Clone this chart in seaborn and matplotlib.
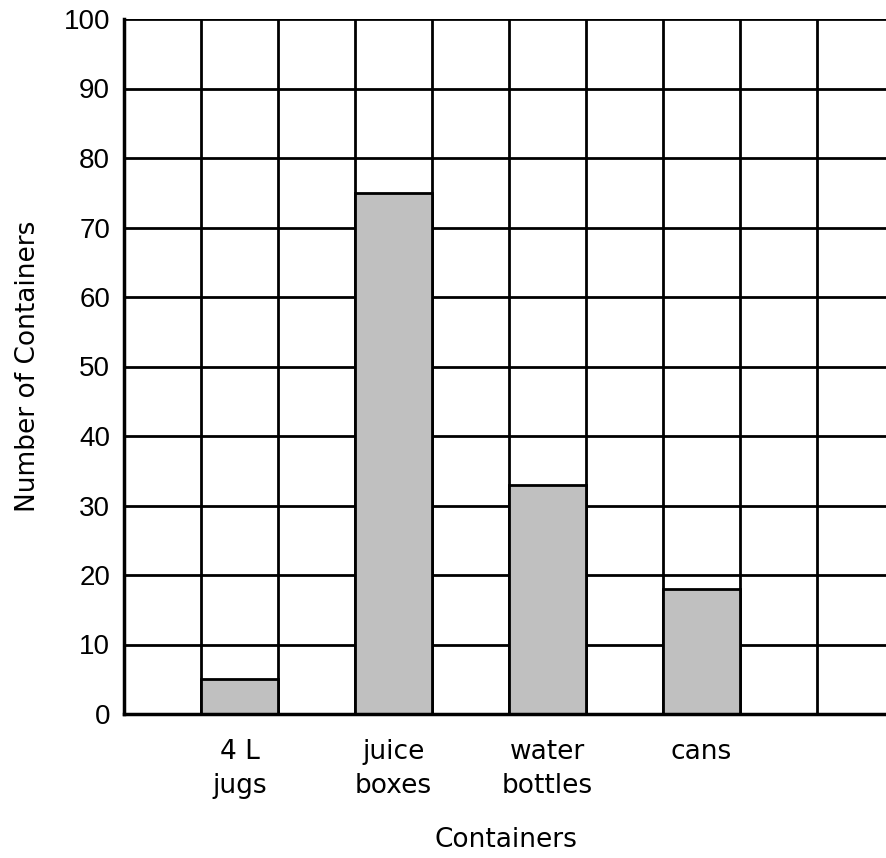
import numpy as np
import pandas as pd
import seaborn as sns
import matplotlib.pyplot as plt

containers = ["4 L\njugs", "juice\nboxes", "water\nbottles", "cans"]
counts = [5, 75, 33, 18]

df = pd.DataFrame({"Containers": containers, "Number": counts})

sns.set_style("white")
plt.rcParams['font.family'] = ['DejaVu Sans']
plt.rcParams['text.color'] = 'black'
plt.rcParams['xtick.color'] = 'black'
plt.rcParams['ytick.color'] = 'black'
plt.rcParams['axes.labelcolor'] = 'black'

fig = plt.figure(figsize=(8.87, 8.58), dpi=100)
ax = fig.add_axes([124 / 887, 144 / 858, 763 / 887, 695 / 858])

sns.barplot(data=df, x="Containers", y="Number", color="#c0c0c0",
            edgecolor="black", linewidth=2, width=0.5, saturation=1,
            zorder=3, ax=ax)

# grid: each category spans two columns
ax.set_xlim(-0.75, -0.75 + 9.91 * 0.5)
ax.set_ylim(0, 100)
ax.set_xticks(np.arange(-0.75, 4.2, 0.5), minor=True)
ax.set_yticks(np.arange(0, 101, 10))
ax.xaxis.grid(True, which="minor", color="black", linewidth=2, zorder=0)
ax.xaxis.grid(False, which="major")
ax.yaxis.grid(True, which="major", color="black", linewidth=2, zorder=0)
ax.set_axisbelow(True)
ax.tick_params(which="both", length=0)
ax.tick_params(axis="y", labelsize=20, pad=10)
ax.tick_params(axis="x", labelsize=19, pad=18)
for lbl in ax.get_yticklabels():
    lbl.set_fontfamily("Liberation Sans")
for lbl in ax.get_xticklabels():
    lbl.set_linespacing(1.4)

for side in ["top", "right"]:
    ax.spines[side].set_visible(False)
for side in ["left", "bottom"]:
    ax.spines[side].set_color("black")
    ax.spines[side].set_linewidth(2.5)
    ax.spines[side].set_zorder(4)

ax.set_xlabel("Containers", fontsize=19, labelpad=20)
ax.set_ylabel("Number of Containers", fontsize=19, labelpad=16)

plt.savefig("out.png", dpi=100)
